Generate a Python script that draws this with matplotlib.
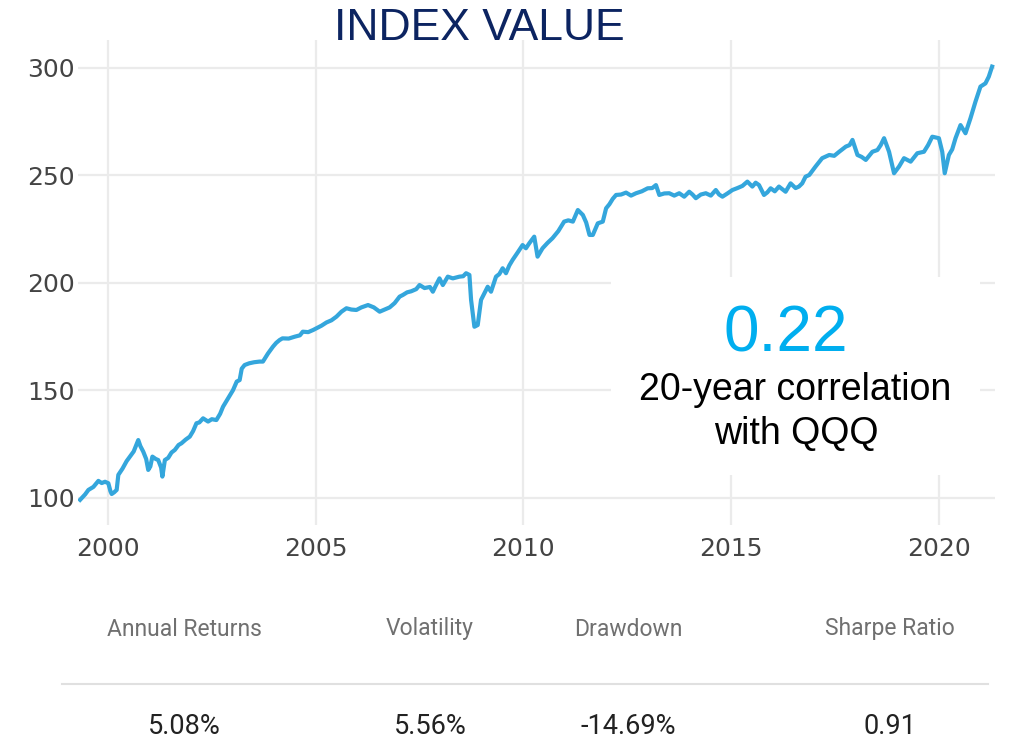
import matplotlib.pyplot as plt
import matplotlib.patches as mpatches

# ─── Data ────────────────────────────────────────────────────────────────────

years = [
    1999.33, 1999.45, 1999.53, 1999.65, 1999.77, 1999.85, 1999.93, 2000.01,
    2000.06, 2000.09, 2000.15, 2000.21, 2000.25, 2000.35, 2000.45, 2000.53,
    2000.62, 2000.73, 2000.78, 2000.85, 2000.92, 2000.97, 2001.02, 2001.07,
    2001.15, 2001.21, 2001.28, 2001.31, 2001.37, 2001.45, 2001.53, 2001.61,
    2001.70, 2001.77, 2001.87, 2001.97, 2002.05, 2002.13, 2002.20, 2002.29,
    2002.41, 2002.50, 2002.61, 2002.70, 2002.77, 2002.90, 2003.01, 2003.10,
    2003.17, 2003.22, 2003.29, 2003.40, 2003.52, 2003.65, 2003.73, 2003.85,
    2003.97, 2004.05, 2004.13, 2004.20, 2004.35, 2004.50, 2004.62, 2004.69,
    2004.82, 2004.94, 2005.02, 2005.14, 2005.26, 2005.38, 2005.50, 2005.62,
    2005.74, 2005.86, 2005.98, 2006.10, 2006.26, 2006.40, 2006.54, 2006.66,
    2006.78, 2006.90, 2007.02, 2007.10, 2007.20, 2007.30, 2007.42, 2007.50,
    2007.62, 2007.75, 2007.82, 2007.90, 2007.98, 2008.06, 2008.18, 2008.30,
    2008.46, 2008.55, 2008.62, 2008.70, 2008.74, 2008.82, 2008.90, 2008.98,
    2009.06, 2009.14, 2009.22, 2009.34, 2009.42, 2009.50, 2009.58, 2009.66,
    2009.74, 2009.86, 2009.98, 2010.06, 2010.14, 2010.26, 2010.34, 2010.46,
    2010.58, 2010.70, 2010.84, 2010.98, 2011.08, 2011.19, 2011.31, 2011.43,
    2011.51, 2011.59, 2011.67, 2011.79, 2011.91, 2011.99, 2012.07, 2012.15,
    2012.23, 2012.35, 2012.47, 2012.59, 2012.71, 2012.85, 2012.99, 2013.10,
    2013.19, 2013.27, 2013.39, 2013.51, 2013.63, 2013.75, 2013.87, 2013.99,
    2014.07, 2014.15, 2014.27, 2014.39, 2014.51, 2014.63, 2014.71, 2014.79,
    2014.91, 2015.03, 2015.15, 2015.27, 2015.39, 2015.51, 2015.59, 2015.67,
    2015.79, 2015.87, 2015.95, 2016.05, 2016.15, 2016.31, 2016.43, 2016.55,
    2016.63, 2016.71, 2016.79, 2016.88, 2017.03, 2017.19, 2017.36, 2017.48,
    2017.60, 2017.76, 2017.85, 2017.92, 2018.04, 2018.14, 2018.24, 2018.40,
    2018.52, 2018.60, 2018.68, 2018.80, 2018.86, 2018.92, 2019.04, 2019.16,
    2019.32, 2019.48, 2019.64, 2019.74, 2019.84, 2020.00, 2020.08, 2020.14,
    2020.24, 2020.32, 2020.40, 2020.52, 2020.64, 2020.76, 2020.88, 2021.00,
    2021.12, 2021.20, 2021.28,
]

index_value = [
    99.0, 101.5, 103.6, 105.0, 107.8, 106.8, 107.4, 106.7,
    103.0, 101.7, 102.5, 103.6, 110.6, 113.5, 117.0, 119.1,
    121.5, 126.8, 124.0, 121.4, 118.0, 112.9, 114.5, 119.1,
    118.0, 117.5, 114.0, 109.8, 117.5, 118.5, 121.0, 122.2,
    124.5, 125.3, 127.0, 128.4, 131.0, 134.6, 135.0, 136.9,
    135.4, 136.5, 136.1, 139.0, 142.3, 146.5, 150.0, 154.0,
    154.7, 160.0, 161.7, 162.5, 163.0, 163.3, 163.3, 167.0,
    170.2, 172.0, 173.3, 174.1, 174.0, 174.9, 175.5, 177.2,
    177.0, 178.0, 178.8, 180.0, 181.5, 182.5, 184.2, 186.5,
    188.1, 187.5, 187.3, 188.5, 189.6, 188.5, 186.5, 187.5,
    188.5, 190.5, 193.5, 194.3, 195.5, 196.0, 197.0, 198.9,
    197.5, 198.0, 195.8, 199.0, 202.0, 198.9, 202.8, 202.0,
    202.8, 203.0, 204.4, 203.6, 192.0, 179.5, 180.3, 192.0,
    195.0, 198.1, 195.8, 202.8, 204.0, 206.7, 204.4, 208.0,
    210.6, 214.0, 217.5, 216.0, 218.3, 221.4, 212.1, 216.0,
    218.5, 220.7, 224.0, 228.4, 229.0, 228.4, 233.8, 231.5,
    228.0, 222.2, 222.2, 227.6, 228.4, 234.6, 236.5, 239.0,
    240.8, 241.0, 241.9, 240.5, 241.6, 242.5, 243.9, 244.0,
    245.4, 240.8, 241.5, 241.6, 240.5, 241.6, 240.0, 242.3,
    241.0, 239.3, 241.0, 241.6, 240.5, 243.1, 241.0, 240.0,
    241.5, 243.1, 244.0, 245.0, 247.0, 244.7, 246.5, 245.4,
    240.8, 242.0, 243.9, 242.5, 244.7, 242.3, 246.2, 244.0,
    244.7, 246.2, 249.3, 250.1, 254.0, 257.9, 259.4, 259.0,
    260.9, 263.3, 264.0, 266.4, 259.4, 258.5, 257.1, 260.9,
    261.7, 264.0, 267.2, 260.9, 256.0, 250.9, 254.0, 257.9,
    256.3, 260.2, 260.9, 264.0, 267.9, 267.2, 260.9, 250.9,
    259.4, 262.0, 267.2, 273.3, 269.5, 276.5, 284.2, 291.2,
    292.7, 295.8, 300.5,
]

x_ticks = [2000, 2005, 2010, 2015, 2020]
y_ticks = [100, 150, 200, 250, 300]

correlation = "0.22"
correlation_label = ["20-year correlation", "with QQQ"]

stat_names = ["Annual Returns", "Volatility", "Drawdown", "Sharpe Ratio"]
stat_values = ["5.08%", "5.56%", "-14.69%", "0.91"]

LINE_COLOR = "#34a6dc"
TITLE_COLOR = "#0c2461"
ACCENT = "#00aeef"

# ─── Figure ──────────────────────────────────────────────────────────────────

fig = plt.figure(figsize=(10.12, 7.44), dpi=100)
ax = fig.add_axes([0.0771, 0.2944, 0.9061, 0.6519])

ax.plot(years, index_value, color=LINE_COLOR, linewidth=3.0, zorder=3,
        solid_joinstyle="round")

ax.set_xlim(1999.28, 2021.35)
ax.set_ylim(87.3, 312.9)
ax.set_xticks(x_ticks)
ax.set_yticks(y_ticks)
ax.tick_params(axis="both", length=0, labelsize=18, labelcolor="#444444")
ax.tick_params(axis="x", pad=9)
ax.tick_params(axis="y", pad=2)
for lab in ax.get_xticklabels() + ax.get_yticklabels():
    lab.set_family("DejaVu Sans")

ax.grid(True, color="#ebebeb", linewidth=1.6)
ax.set_axisbelow(True)
for s in ax.spines.values():
    s.set_visible(False)

# white panel over the grid for the correlation callout
box = mpatches.Rectangle((611 / 1012, 1 - 475 / 744), (980 - 611) / 1012,
                         (475 - 277) / 744, transform=fig.transFigure,
                         facecolor="white", edgecolor="none", zorder=1)
fig.patches.append(box)

fig.text(0.474, 0.962, "INDEX VALUE", ha="center", va="center",
         fontsize=32, color=TITLE_COLOR, family="Liberation Sans")

fig.text(786 / 1012, 1 - 352 / 744, correlation, ha="center", va="baseline",
         fontsize=46, color=ACCENT, family="Liberation Sans")
fig.text(795 / 1012, 1 - 400 / 744, correlation_label[0], ha="center",
         va="baseline", fontsize=27, color="black", family="Liberation Sans")
fig.text(796 / 1012, 1 - 444 / 744, correlation_label[1], ha="center",
         va="baseline", fontsize=27, color="black", family="Liberation Sans")

# ─── Stats table ─────────────────────────────────────────────────────────────

col_x = [184, 430, 628, 890]
for cx, name, val in zip(col_x, stat_names, stat_values):
    fig.text(cx / 1012, 1 - 629 / 744, name, ha="center", va="center",
             fontsize=16.5, color="#707070", family="Roboto")
    fig.text(cx / 1012, 1 - 727 / 744, val, ha="center", va="center",
             fontsize=19.5, color="#222222", family="Roboto")

fig.add_artist(plt.Line2D([62 / 1012, 988 / 1012], [1 - 684 / 744] * 2,
                          transform=fig.transFigure, color="#e0e0e0",
                          linewidth=1.5))

fig.savefig("out.png", dpi=100, facecolor="white")
